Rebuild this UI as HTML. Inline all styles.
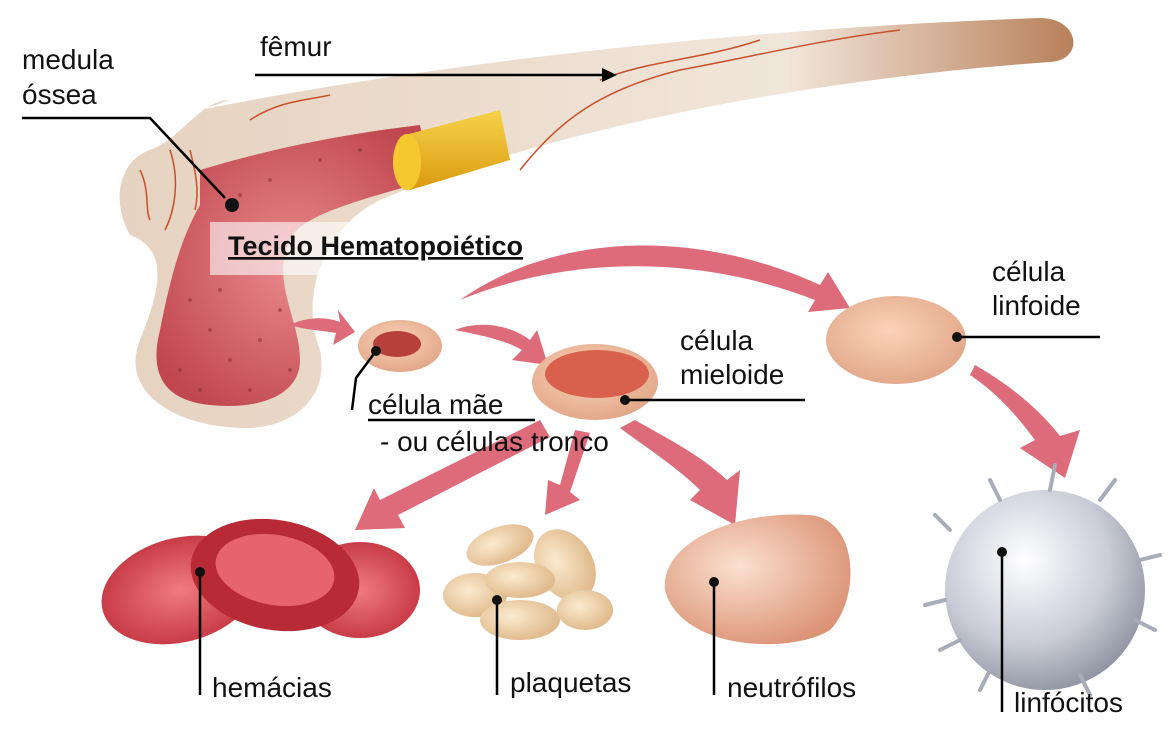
<!DOCTYPE html>
<html><head><meta charset="utf-8"><style>
html,body{margin:0;padding:0;background:#fff;}
svg{display:block;}
text{font-family:"Liberation Sans",Arial,sans-serif;fill:#111;}
</style></head><body>
<svg width="1175" height="734" viewBox="0 0 1175 734" xmlns="http://www.w3.org/2000/svg">
<defs>
<linearGradient id="bone" x1="0" y1="0" x2="1" y2="0">
<stop offset="0" stop-color="#e6d2c0"/><stop offset="0.7" stop-color="#f1e6da"/><stop offset="1" stop-color="#b9805a"/>
</linearGradient>
<radialGradient id="marrow" cx="0.5" cy="0.5" r="0.6"><stop offset="0" stop-color="#e98a8c"/><stop offset="1" stop-color="#c0464f"/></radialGradient>
<radialGradient id="lym" cx="0.4" cy="0.35" r="0.7"><stop offset="0" stop-color="#ffffff"/><stop offset="0.6" stop-color="#c9ccd6"/><stop offset="1" stop-color="#8c909e"/></radialGradient>
<radialGradient id="rbc" cx="0.5" cy="0.5" r="0.6"><stop offset="0" stop-color="#f07a80"/><stop offset="1" stop-color="#c0303c"/></radialGradient>
<radialGradient id="peach" cx="0.45" cy="0.4" r="0.65"><stop offset="0" stop-color="#fbd3b8"/><stop offset="1" stop-color="#e0a486"/></radialGradient>
<radialGradient id="neu" cx="0.4" cy="0.4" r="0.7"><stop offset="0" stop-color="#fbe0cf"/><stop offset="1" stop-color="#d98e70"/></radialGradient>
<radialGradient id="plt" cx="0.4" cy="0.4" r="0.7"><stop offset="0" stop-color="#fbebcf"/><stop offset="1" stop-color="#dcb382"/></radialGradient>
<linearGradient id="gold" x1="0" y1="0" x2="0" y2="1"><stop offset="0" stop-color="#f7d34a"/><stop offset="1" stop-color="#d99a10"/></linearGradient>
</defs>

<path d="M200,110 C400,70 700,30 1040,18 C1080,18 1085,60 1050,62 C800,80 550,130 380,200 C320,230 300,300 320,350 C330,400 290,430 240,428 C170,425 120,390 140,340 C160,290 170,250 130,235 C110,200 120,160 150,150 C180,140 200,100 230,100 Z" fill="url(#bone)"/>
<path d="M200,170 C300,140 380,130 420,125 L430,180 C360,200 300,215 290,240 C270,280 300,320 300,360 C300,395 260,410 210,405 C160,400 150,370 160,330 C170,280 180,240 200,205 Z" fill="url(#marrow)"/>
<g fill="#8a2a30" opacity="0.5">
<circle cx="190" cy="300" r="2"/><circle cx="210" cy="330" r="2"/><circle cx="230" cy="360" r="2"/><circle cx="260" cy="340" r="2"/><circle cx="180" cy="370" r="2"/><circle cx="250" cy="390" r="2"/><circle cx="280" cy="310" r="2"/><circle cx="220" cy="290" r="2"/><circle cx="270" cy="180" r="2"/><circle cx="320" cy="160" r="2"/><circle cx="360" cy="150" r="2"/><circle cx="240" cy="195" r="2"/><circle cx="200" cy="390" r="2"/><circle cx="290" cy="370" r="2"/>
</g>
<path d="M405,135 L500,110 L510,160 L410,190 Z" fill="url(#gold)"/>
<ellipse cx="407" cy="162" rx="14" ry="28" fill="#f5c830"/>
<g stroke="#c8502a" stroke-width="1.5" fill="none">
<path d="M520,170 C560,120 600,90 680,70 C760,55 820,40 900,30"/>
<path d="M600,80 C650,60 700,60 760,40"/>
<path d="M170,150 C180,180 175,210 165,230"/>
<path d="M190,150 C195,170 200,190 195,210"/>
<path d="M140,170 C150,190 145,210 150,220"/>
<path d="M250,120 C280,100 310,100 330,95"/>
</g>

<rect x="210" y="222" width="322" height="53" fill="#fff" opacity="0.6"/>
<text x="228" y="255" font-size="27" font-weight="bold" text-decoration="underline">Tecido Hematopoiético</text>

<g fill="#dd6b7a">
<path d="M290,325 C310,315 330,318 340,322 L338,310 L355,332 L333,345 L336,333 C320,330 305,330 290,325 Z"/>
<path d="M455,330 C480,320 510,325 530,340 L537,330 L548,365 L512,360 L522,350 C505,340 480,335 455,330 Z"/>
<path d="M460,300 C560,230 700,230 820,285 L828,272 L850,308 L808,312 L815,300 C700,255 570,255 460,300 Z"/>
<path d="M540,420 L380,500 L374,488 L355,530 L405,528 L398,515 L550,437 Z"/>
<path d="M575,430 L560,485 L548,480 L545,515 L580,500 L570,492 L590,433 Z"/>
<path d="M620,428 C650,450 680,470 700,490 L690,500 L735,525 L740,470 L727,480 C700,455 670,440 635,420 Z"/>
<path d="M970,375 C1000,395 1020,420 1035,440 L1020,448 L1065,478 L1080,430 L1060,436 C1040,410 1010,385 975,365 Z"/>
</g>

<ellipse cx="400" cy="346" rx="42" ry="26" fill="url(#peach)"/>
<ellipse cx="397" cy="344" rx="24" ry="13" fill="#b8403a"/>
<ellipse cx="595" cy="382" rx="63" ry="38" fill="url(#peach)"/>
<ellipse cx="597" cy="374" rx="52" ry="24" fill="#d8604c"/>
<ellipse cx="896" cy="340" rx="70" ry="44" fill="url(#peach)"/>

<ellipse cx="180" cy="590" rx="80" ry="52" fill="url(#rbc)" transform="rotate(-15 180 590)"/>
<ellipse cx="360" cy="590" rx="60" ry="48" fill="url(#rbc)"/>
<ellipse cx="275" cy="575" rx="85" ry="55" fill="#b82a36" transform="rotate(10 275 575)"/>
<ellipse cx="275" cy="570" rx="60" ry="35" fill="#e8646c" transform="rotate(10 275 570)"/>
<g fill="url(#plt)">
<ellipse cx="500" cy="545" rx="35" ry="18" transform="rotate(-20 500 545)"/>
<ellipse cx="565" cy="565" rx="28" ry="38" transform="rotate(-30 565 565)"/>
<ellipse cx="475" cy="595" rx="32" ry="22"/>
<ellipse cx="520" cy="580" rx="35" ry="18"/>
<ellipse cx="520" cy="620" rx="40" ry="20"/>
<ellipse cx="585" cy="610" rx="28" ry="20"/>
</g>
<path d="M665,590 C660,540 740,510 810,515 C860,520 860,600 830,630 C790,655 680,650 665,590 Z" fill="url(#neu)"/>
<circle cx="1045" cy="590" r="100" fill="url(#lym)"/>
<g stroke="#a8acb8" stroke-width="4" stroke-linecap="round" fill="none">
<path d="M950,530 L935,515"/><path d="M945,600 L925,605"/><path d="M1140,560 L1160,555"/><path d="M1135,620 L1155,630"/><path d="M1050,490 L1055,465"/><path d="M1100,500 L1115,480"/><path d="M990,670 L980,690"/><path d="M1080,675 L1090,695"/><path d="M1000,500 L990,480"/><path d="M960,640 L940,650"/>
</g>

<g stroke="#000" stroke-width="2.5" fill="none">
<path d="M255,75 L605,75"/>
<path d="M22,118 L150,118 L225,198"/>
<path d="M376,351 L356,378 L352,410"/>
<path d="M368,420 L535,420"/>
<path d="M625,400 L805,400"/>
<path d="M957,337 L1100,337"/>
<path d="M200,572 L200,695"/>
<path d="M497,600 L497,695"/>
<path d="M714,582 L714,695"/>
<path d="M1002,552 L1002,712"/>
</g>
<path d="M617,75 L602,68 L602,82 Z" fill="#000"/>
<g fill="#111">
<circle cx="232" cy="205" r="7"/><circle cx="376" cy="351" r="5"/><circle cx="625" cy="400" r="5"/><circle cx="957" cy="337" r="5"/><circle cx="200" cy="572" r="5"/><circle cx="497" cy="600" r="5"/><circle cx="714" cy="582" r="5"/><circle cx="1002" cy="552" r="5"/>
</g>

<g font-size="28">
<text x="22" y="69">medula</text>
<text x="22" y="104">óssea</text>
<text x="260" y="56">fêmur</text>
<text x="368" y="414">célula mãe</text>
<text x="380" y="451">- ou células tronco</text>
<text x="680" y="350">célula</text>
<text x="680" y="384">mieloide</text>
<text x="992" y="281">célula</text>
<text x="992" y="315">linfoide</text>
<text x="212" y="697">hemácias</text>
<text x="510" y="692">plaquetas</text>
<text x="727" y="697">neutrófilos</text>
<text x="1014" y="712">linfócitos</text>
</g>
</svg>
</body></html>
